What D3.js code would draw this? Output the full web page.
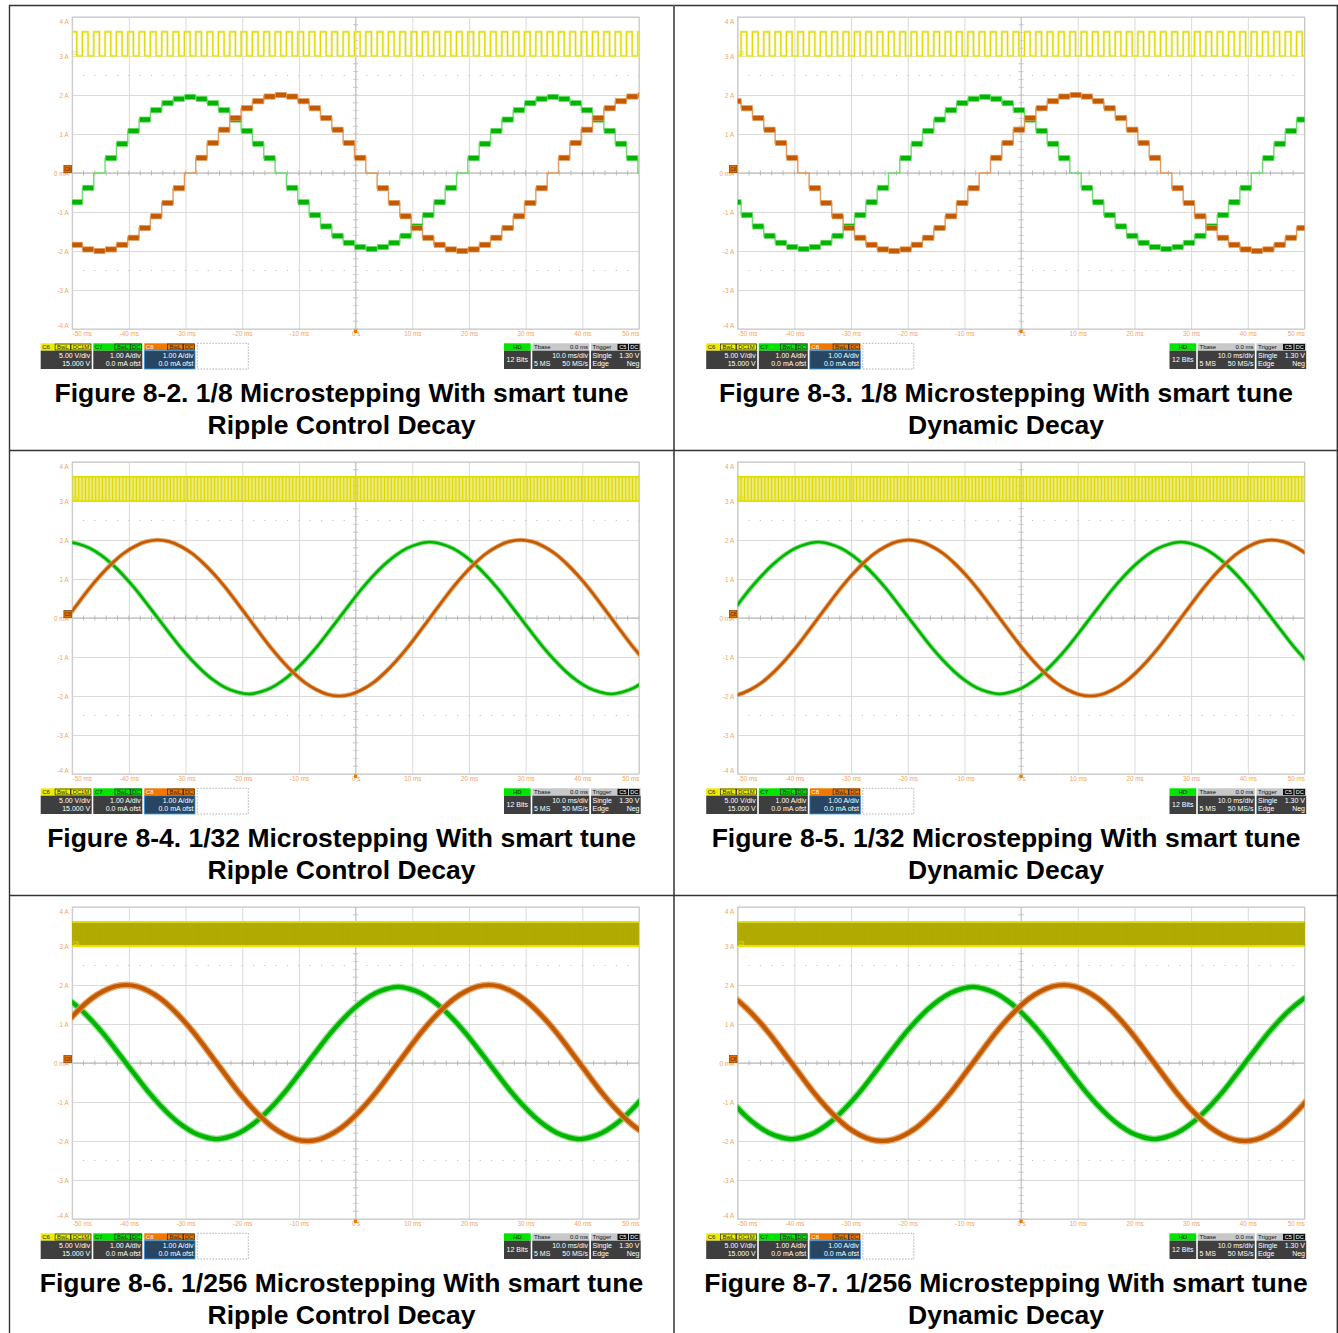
<!DOCTYPE html>
<html><head><meta charset="utf-8">
<script src="https://cdn.jsdelivr.net/npm/d3@7/dist/d3.min.js"></script>
<style>
body{margin:0;background:#fff;}
svg{display:block;font-family:"Liberation Sans",Arial,sans-serif;}
</style>
</head><body>
<svg id="c" width="1338" height="1333"></svg>
<script>
// ---------------- DATA ----------------
const timeTicksMs = [-50,-40,-30,-20,-10,0,10,20,30,40,50];
const timeTickLabels = ["-50 ms","-40 ms","-30 ms","-20 ms","-10 ms","0 s","10 ms","20 ms","30 ms","40 ms","50 ms"];
const currentTicksA = [4,3,2,1,0,-1,-2,-3,-4];
const currentTickLabels = ["4 A","3 A","2 A","1 A","0 mA","-1 A","-2 A","-3 A","-4 A"];

const figureTitles = [
  "Figure 8-2. 1/8 Microstepping With smart tune",
  "Figure 8-3. 1/8 Microstepping With smart tune",
  "Figure 8-4. 1/32 Microstepping With smart tune",
  "Figure 8-5. 1/32 Microstepping With smart tune",
  "Figure 8-6. 1/256 Microstepping With smart tune",
  "Figure 8-7. 1/256 Microstepping With smart tune"];
const figureSubtitles = ["Ripple Control Decay","Dynamic Decay","Ripple Control Decay","Dynamic Decay","Ripple Control Decay","Dynamic Decay"];
const microstepModes = ["1/8","1/8","1/32","1/32","1/256","1/256"];
// time of first sample (ms); samples are 2 ms apart
const sampleStartMs = [-50.2,-51.4,-50.9,-51.8,-52.5,-52.5];
const sampleSpacingMs = 2;
// step-input clock (C6) period per figure, ms
const stepClockPeriodMs = [2,2,0.5,0.5,0.0625,0.0625];
const clockLevelsDiv = [3.0, 3.62];

// C7 (green) and C8 (orange) coil currents in A, read every 2 ms
const c7Fig82 = [-0.75,-0.38,0,0.38,0.75,1.08,1.37,1.61,1.79,1.90,1.95,1.90,1.79,1.61,1.37,1.08,0.75,0.38,0,-0.38,-0.75,-1.08,-1.37,-1.61,-1.79,-1.90,-1.95,-1.90,-1.79,-1.61,-1.37,-1.08,-0.75,-0.38,0,0.38,0.75,1.08,1.37,1.61,1.79,1.90,1.95,1.90,1.79,1.61,1.37,1.08,0.75,0.38,0];
const c8Fig82 = [-1.84,-1.96,-2.0,-1.96,-1.84,-1.66,-1.41,-1.11,-0.77,-0.39,0,0.39,0.77,1.11,1.41,1.66,1.84,1.96,2.0,1.96,1.84,1.66,1.41,1.11,0.77,0.39,0,-0.39,-0.77,-1.11,-1.41,-1.66,-1.84,-1.96,-2.0,-1.96,-1.84,-1.66,-1.41,-1.11,-0.77,-0.39,0,0.39,0.77,1.11,1.41,1.66,1.84,1.96,2.0];
const c7Fig83 = [-0.75,-1.08,-1.37,-1.61,-1.79,-1.90,-1.95,-1.90,-1.79,-1.61,-1.37,-1.08,-0.75,-0.38,0,0.38,0.75,1.08,1.37,1.61,1.79,1.90,1.95,1.90,1.79,1.61,1.37,1.08,0.75,0.38,0,-0.38,-0.75,-1.08,-1.37,-1.61,-1.79,-1.90,-1.95,-1.90,-1.79,-1.61,-1.37,-1.08,-0.75,-0.38,0,0.38,0.75,1.08,1.37];
const c8Fig83 = [1.84,1.66,1.41,1.11,0.77,0.39,0,-0.39,-0.77,-1.11,-1.41,-1.66,-1.84,-1.96,-2.0,-1.96,-1.84,-1.66,-1.41,-1.11,-0.77,-0.39,0,0.39,0.77,1.11,1.41,1.66,1.84,1.96,2.0,1.96,1.84,1.66,1.41,1.11,0.77,0.39,0,-0.39,-0.77,-1.11,-1.41,-1.66,-1.84,-1.96,-2.0,-1.96,-1.84,-1.66,-1.41];
const c7Fig84 = [1.95,1.90,1.79,1.61,1.37,1.08,0.75,0.38,0,-0.38,-0.75,-1.08,-1.37,-1.61,-1.79,-1.90,-1.95,-1.90,-1.79,-1.61,-1.37,-1.08,-0.75,-0.38,0,0.38,0.75,1.08,1.37,1.61,1.79,1.90,1.95,1.90,1.79,1.61,1.37,1.08,0.75,0.38,0,-0.38,-0.75,-1.08,-1.37,-1.61,-1.79,-1.90,-1.95,-1.90,-1.79,-1.61];
const c8Fig84 = [0,0.39,0.77,1.11,1.41,1.66,1.84,1.96,2.0,1.96,1.84,1.66,1.41,1.11,0.77,0.39,0,-0.39,-0.77,-1.11,-1.41,-1.66,-1.84,-1.96,-2.0,-1.96,-1.84,-1.66,-1.41,-1.11,-0.77,-0.39,0,0.39,0.77,1.11,1.41,1.66,1.84,1.96,2.0,1.96,1.84,1.66,1.41,1.11,0.77,0.39,0,-0.39,-0.77,-1.11];
const c7Fig85 = [0,0.38,0.75,1.08,1.37,1.61,1.79,1.90,1.95,1.90,1.79,1.61,1.37,1.08,0.75,0.38,0,-0.38,-0.75,-1.08,-1.37,-1.61,-1.79,-1.90,-1.95,-1.90,-1.79,-1.61,-1.37,-1.08,-0.75,-0.38,0,0.38,0.75,1.08,1.37,1.61,1.79,1.90,1.95,1.90,1.79,1.61,1.37,1.08,0.75,0.38,0,-0.38,-0.75,-1.08];
const c8Fig85 = [-2.0,-1.96,-1.84,-1.66,-1.41,-1.11,-0.77,-0.39,0,0.39,0.77,1.11,1.41,1.66,1.84,1.96,2.0,1.96,1.84,1.66,1.41,1.11,0.77,0.39,0,-0.39,-0.77,-1.11,-1.41,-1.66,-1.84,-1.96,-2.0,-1.96,-1.84,-1.66,-1.41,-1.11,-0.77,-0.39,0,0.39,0.77,1.11,1.41,1.66,1.84,1.96,2.0,1.96,1.84,1.66];
const c7Fig86 = [1.79,1.61,1.37,1.08,0.75,0.38,0,-0.38,-0.75,-1.08,-1.37,-1.61,-1.79,-1.90,-1.95,-1.90,-1.79,-1.61,-1.37,-1.08,-0.75,-0.38,0,0.38,0.75,1.08,1.37,1.61,1.79,1.90,1.95,1.90,1.79,1.61,1.37,1.08,0.75,0.38,0,-0.38,-0.75,-1.08,-1.37,-1.61,-1.79,-1.90,-1.95,-1.90,-1.79,-1.61,-1.37,-1.08,-0.75];
const c8Fig86 = [0.77,1.11,1.41,1.66,1.84,1.96,2.0,1.96,1.84,1.66,1.41,1.11,0.77,0.39,0,-0.39,-0.77,-1.11,-1.41,-1.66,-1.84,-1.96,-2.0,-1.96,-1.84,-1.66,-1.41,-1.11,-0.77,-0.39,0,0.39,0.77,1.11,1.41,1.66,1.84,1.96,2.0,1.96,1.84,1.66,1.41,1.11,0.77,0.39,0,-0.39,-0.77,-1.11,-1.41,-1.66,-1.84];
const c7Fig87 = [-0.75,-1.08,-1.37,-1.61,-1.79,-1.90,-1.95,-1.90,-1.79,-1.61,-1.37,-1.08,-0.75,-0.38,0,0.38,0.75,1.08,1.37,1.61,1.79,1.90,1.95,1.90,1.79,1.61,1.37,1.08,0.75,0.38,0,-0.38,-0.75,-1.08,-1.37,-1.61,-1.79,-1.90,-1.95,-1.90,-1.79,-1.61,-1.37,-1.08,-0.75,-0.38,0,0.38,0.75,1.08,1.37,1.61,1.79];
const c8Fig87 = [1.84,1.66,1.41,1.11,0.77,0.39,0,-0.39,-0.77,-1.11,-1.41,-1.66,-1.84,-1.96,-2.0,-1.96,-1.84,-1.66,-1.41,-1.11,-0.77,-0.39,0,0.39,0.77,1.11,1.41,1.66,1.84,1.96,2.0,1.96,1.84,1.66,1.41,1.11,0.77,0.39,0,-0.39,-0.77,-1.11,-1.41,-1.66,-1.84,-1.96,-2.0,-1.96,-1.84,-1.66,-1.41,-1.11,-0.77];

const c7Series = [c7Fig82,c7Fig83,c7Fig84,c7Fig85,c7Fig86,c7Fig87];
const c8Series = [c8Fig82,c8Fig83,c8Fig84,c8Fig85,c8Fig86,c8Fig87];

// info-bar texts
const chanNames = ["C6","C7","C8"];
const chanScale = ["5.00 V/div","1.00 A/div","1.00 A/div"];
const chanOffset = ["15.000 V","0.0 mA ofst","0.0 mA ofst"];
const chanTags = [["BwL","DC1M"],["BwL","DC"],["BwL","DC"]];

// ---------------- DRAW ----------------
const svg = d3.select("#c");
svg.append("rect").attr("width",1338).attr("height",1333).attr("fill","#fff");
const defs = svg.append("defs");

const AX = "#f4a460";
const GREEN = "#00b400", GREEN_L = "#6edc6e";
const ORANGE = "#c45a00", ORANGE_L = "#e39a5a";

function txt(g,x,y,s,o){
  o=o||{};
  return g.append("text").attr("x",x).attr("y",y).text(s)
    .attr("font-size",o.size||7).attr("fill",o.fill||"#fff")
    .attr("text-anchor",o.anchor||"start").attr("font-weight",o.weight||"normal");
}

function infoBar(ox,oy){
  const g = svg.append("g").attr("transform",`translate(${ox},${oy})`);
  const hy=343.3, hh=7.4, by=350.7, bh=18.3;
  const xs=[40.7,93.3,144.3], ws=[51,49,50.7];
  const hdr=["#eded00","#00e400","#f07800"];
  const nameFill=["#222","#111","#fff"];
  const bodyFill=["#3e3e3e","#3e3e3e","#284662"];
  for(let i=0;i<3;i++){
    const x=xs[i], w=ws[i];
    g.append("rect").attr("x",x).attr("y",hy).attr("width",w).attr("height",hh).attr("fill",hdr[i]);
    txt(g,x+1.5,hy+6,chanNames[i],{fill:nameFill[i],size:6});
    let tx=x+w-0.8;
    chanTags[i].slice().reverse().forEach(t=>{
      const tw=t.length*4.6+1.5; tx-=tw;
      g.append("rect").attr("x",tx).attr("y",hy+0.7).attr("width",tw).attr("height",hh-1.4)
        .attr("fill","none").attr("stroke","#262626").attr("stroke-width",0.7);
      txt(g,tx+tw/2,hy+5.9,t,{anchor:"middle",fill:"#262626",size:5.8});
      tx-=0.6;
    });
    g.append("rect").attr("x",x).attr("y",by).attr("width",w).attr("height",bh).attr("fill",bodyFill[i])
      .attr("stroke",i===2?"#3d9be9":"none").attr("stroke-width",0.8);
    txt(g,x+w-1.5,by+7.3,chanScale[i],{anchor:"end"});
    txt(g,x+w-1.5,by+15,chanOffset[i],{anchor:"end"});
  }
  g.append("rect").attr("x",197.3).attr("y",hy).attr("width",51).attr("height",hh+bh)
    .attr("fill","none").attr("stroke","#9a9a9a").attr("stroke-width",0.8).attr("stroke-dasharray","1.5,1.5");
  // HD
  g.append("rect").attr("x",504).attr("y",hy).attr("width",26.7).attr("height",hh).attr("fill","#00e400");
  txt(g,517.3,hy+6,"HD",{anchor:"middle",fill:"#111",size:6});
  g.append("rect").attr("x",504).attr("y",by).attr("width",26.7).attr("height",bh).attr("fill","#3e3e3e");
  txt(g,517.3,by+11.3,"12 Bits",{anchor:"middle"});
  // Tbase
  g.append("rect").attr("x",532.3).attr("y",hy).attr("width",57).attr("height",hh).attr("fill","#c8c8c8");
  txt(g,534,hy+6,"Tbase",{fill:"#111",size:6});
  txt(g,588,hy+6,"0.0 ms",{fill:"#111",size:6,anchor:"end"});
  g.append("rect").attr("x",532.3).attr("y",by).attr("width",57).attr("height",bh).attr("fill","#3e3e3e");
  txt(g,588,by+7.3,"10.0 ms/div",{anchor:"end"});
  txt(g,534,by+15,"5 MS");
  txt(g,588,by+15,"50 MS/s",{anchor:"end"});
  // Trigger
  g.append("rect").attr("x",591).attr("y",hy).attr("width",49.7).attr("height",hh).attr("fill","#c8c8c8");
  txt(g,592.5,hy+6,"Trigger",{fill:"#111",size:6});
  [["C5",617.5],["DC",629]].forEach(([s,bx])=>{
    g.append("rect").attr("x",bx).attr("y",hy+0.6).attr("width",10.5).attr("height",hh-1.2).attr("fill","#111");
    txt(g,bx+5.25,hy+5.8,s,{anchor:"middle",size:5.6});
  });
  g.append("rect").attr("x",591).attr("y",by).attr("width",49.7).attr("height",bh).attr("fill","#3e3e3e");
  txt(g,592.5,by+7.3,"Single");
  txt(g,639.5,by+7.3,"1.30 V",{anchor:"end"});
  txt(g,592.5,by+15,"Edge");
  txt(g,639.5,by+15,"Neg",{anchor:"end"});
}

for(let i=0;i<6;i++){
  const col=i%2,row=Math.floor(i/2);
  const ox=col*665.5, oy=row*445;
  const left=72.2+ox,right=639+ox,top=17+oy,bottom=329+oy;
  const x=d3.scaleLinear().domain([-50,50]).range([left,right]);
  const y=d3.scaleLinear().domain([-4,4]).range([bottom,top]);
  const g=svg.append("g");
  const mode=microstepModes[i];
  const t0=sampleStartMs[i];

  // grid
  const gx=g.append("g").attr("transform",`translate(0,${bottom})`)
    .call(d3.axisBottom(x).tickValues(timeTicksMs).tickSize(-(bottom-top)).tickFormat(""));
  gx.select(".domain").remove();
  gx.selectAll("line").attr("stroke","#dadada").attr("stroke-width",1);
  const gy=g.append("g").attr("transform",`translate(${left},0)`)
    .call(d3.axisLeft(y).tickValues(currentTicksA).tickSize(-(right-left)).tickFormat(""));
  gy.select(".domain").remove();
  gy.selectAll("line").attr("stroke","#dadada").attr("stroke-width",1);
  // dotted rows at +/-2.5 div
  [2.5,-2.5].forEach(v=>{
    g.append("line").attr("x1",left).attr("x2",right).attr("y1",y(v)).attr("y2",y(v))
      .attr("stroke","#c4c4c4").attr("stroke-width",1.2)
      .attr("stroke-dasharray",`1.2,${(right-left)/50-1.2}`).attr("stroke-dashoffset",-((right-left)/50-0.6));
  });
  // centre lines with ticks
  g.append("line").attr("x1",left).attr("x2",right).attr("y1",y(0)).attr("y2",y(0)).attr("stroke","#b4b4b4");
  g.append("line").attr("x1",x(0)).attr("x2",x(0)).attr("y1",top).attr("y2",bottom).attr("stroke","#c4c4c4");
  g.append("line").attr("x1",left).attr("x2",right).attr("y1",y(0)).attr("y2",y(0))
    .attr("stroke","#b4b4b4").attr("stroke-width",5)
    .attr("stroke-dasharray",`0.9,${(right-left)/50-0.9}`).attr("stroke-dashoffset",0.45);
  g.append("line").attr("x1",x(0)).attr("x2",x(0)).attr("y1",top).attr("y2",bottom)
    .attr("stroke","#c4c4c4").attr("stroke-width",5)
    .attr("stroke-dasharray",`0.9,${(bottom-top)/40-0.9}`).attr("stroke-dashoffset",0.45);
  // frame
  g.append("rect").attr("x",left).attr("y",top).attr("width",right-left).attr("height",bottom-top)
    .attr("fill","none").attr("stroke","#c6c6c6").attr("stroke-width",1);

  // axes labels
  const xa=g.append("g").attr("transform",`translate(0,${bottom})`)
    .call(d3.axisBottom(x).tickValues(timeTicksMs).tickSize(0).tickPadding(2.5)
      .tickFormat((d,k)=>timeTickLabels[k]));
  xa.select(".domain").remove();
  xa.selectAll("text").attr("fill",AX).attr("font-size",6.3).attr("font-family","Liberation Sans, Arial, sans-serif");
  xa.selectAll("text").filter((d,k)=>k===0).attr("text-anchor","start");
  xa.selectAll("text").filter((d,k)=>k===timeTicksMs.length-1).attr("text-anchor","end");
  const ya=g.append("g").attr("transform",`translate(${left},0)`)
    .call(d3.axisLeft(y).tickValues(currentTicksA).tickSize(0).tickPadding(3.5)
      .tickFormat((d,k)=>currentTickLabels[k]));
  ya.select(".domain").remove();
  ya.selectAll("text").attr("fill",AX).attr("font-size",6.3).attr("font-family","Liberation Sans, Arial, sans-serif");
  ya.selectAll("text").filter(d=>d===4).attr("dy","1.05em");
  ya.selectAll("text").filter(d=>d===-4).attr("dy","-0.2em");
  // trigger marker at 0 s
  g.append("rect").attr("x",x(0)-1.6).attr("y",bottom+0.5).attr("width",3.2).attr("height",3.5).attr("fill","#f07800");

  // clip
  defs.append("clipPath").attr("id","clip"+i).append("rect")
    .attr("x",left).attr("y",top).attr("width",right-left).attr("height",bottom-top);
  const tg=g.append("g").attr("clip-path",`url(#clip${i})`);

  // C6 step clock (square wave)
  const per=stepClockPeriodMs[i];
  const clk=[];
  const nPulses=Math.ceil((52-t0)/per);
  for(let n=0;n<=nPulses;n++){
    const ts=t0+n*per;
    clk.push([ts,clockLevelsDiv[1]],[ts+per/2,clockLevelsDiv[0]]);
  }
  const clkLine=d3.line().x(d=>x(d[0])).y(d=>y(d[1])).curve(d3.curveStepAfter);
  if(mode==="1/8"){
    tg.append("path").attr("d",clkLine(clk)).attr("fill","none").attr("stroke","#f2f2a0").attr("stroke-width",2.6);
    tg.append("path").attr("d",clkLine(clk)).attr("fill","none").attr("stroke","#e0dc00").attr("stroke-width",1.2);
  } else if(mode==="1/32"){
    tg.append("path").attr("d",clkLine(clk)).attr("fill","none").attr("stroke","#dcd800").attr("stroke-width",1);
    [clockLevelsDiv[0],clockLevelsDiv[1]].forEach(v=>{
      tg.append("line").attr("x1",left).attr("x2",right).attr("y1",y(v)).attr("y2",y(v))
        .attr("stroke","#e0dc00").attr("stroke-width",1.4);
    });
  } else {
    tg.append("path").attr("d",clkLine(clk)).attr("fill","none").attr("stroke","#b2ac00").attr("stroke-width",0.8);
    [clockLevelsDiv[0],clockLevelsDiv[1]].forEach(v=>{
      tg.append("line").attr("x1",left).attr("x2",right).attr("y1",y(v)).attr("y2",y(v))
        .attr("stroke","#e8e400").attr("stroke-width",1.8);
    });
  }

  // coil currents
  const chans=[{v:c7Series[i],core:GREEN,light:GREEN_L},{v:c8Series[i],core:ORANGE,light:ORANGE_L}];
  chans.forEach(ch=>{
    const pts=ch.v.map((v,k)=>({t:t0+sampleSpacingMs*k,v}));
    if(mode==="1/8"){
      const sp=pts.concat([{t:t0+sampleSpacingMs*ch.v.length,v:ch.v[ch.v.length-1]}]);
      const sl=d3.line().x(d=>x(d.t)).y(d=>y(d.v)).curve(d3.curveStepAfter);
      tg.append("path").attr("d",sl(sp)).attr("fill","none").attr("stroke",ch.light).attr("stroke-width",1.4);
      tg.selectAll(null).data(pts.filter(d=>Math.abs(d.v)>0.05)).join("rect")
        .attr("x",d=>x(d.t)+0.3).attr("width",d=>x(d.t+sampleSpacingMs)-x(d.t)-0.3)
        .attr("y",d=>y(d.v)-2.6).attr("height",5.2)
        .attr("fill",ch.core).attr("stroke",ch.light).attr("stroke-width",0.7);
    } else {
      const cl=d3.line().x(d=>x(d.t)).y(d=>y(d.v)).curve(d3.curveCatmullRom);
      const wide = mode==="1/32" ? [4.6,2.6] : [6.8,4.2];
      tg.append("path").attr("d",cl(pts)).attr("fill","none").attr("stroke",ch.light).attr("stroke-width",wide[0]).attr("opacity",0.85);
      tg.append("path").attr("d",cl(pts)).attr("fill","none").attr("stroke",ch.core).attr("stroke-width",wide[1]);
    }
  });

  // channel markers
  g.append("text").attr("x",left+0.8).attr("y",y(3)-0.8).text("C6").attr("font-size",4.6)
    .attr("fill","#e8e400").attr("text-anchor","start");
  g.append("rect").attr("x",left-8.3).attr("y",y(0)-7.4).attr("width",7.6).attr("height",7.2)
    .attr("fill","#e07000").attr("stroke","#7a3a00").attr("stroke-width",0.7);
  g.append("text").attr("x",left-4.5).attr("y",y(0)-2).text("C8").attr("font-size",4.6)
    .attr("fill","#5a2a00").attr("text-anchor","middle");

  infoBar(ox,oy);

  // captions
  const cx = col===0 ? 341.5 : 1006;
  svg.append("text").attr("x",cx).attr("y",402+oy).text(figureTitles[i])
    .attr("text-anchor","middle").attr("font-size",26.5).attr("font-weight","bold").attr("fill","#000");
  svg.append("text").attr("x",cx).attr("y",434+oy).text(figureSubtitles[i])
    .attr("text-anchor","middle").attr("font-size",26.5).attr("font-weight","bold").attr("fill","#000");
}

// table borders
const bd=svg.append("g").attr("stroke","#333").attr("stroke-width",1.4);
bd.append("line").attr("x1",9).attr("x2",1338).attr("y1",5.5).attr("y2",5.5);
bd.append("line").attr("x1",9.5).attr("x2",9.5).attr("y1",5).attr("y2",1333);
bd.append("line").attr("x1",674).attr("x2",674).attr("y1",5).attr("y2",1333).attr("stroke","#555").attr("stroke-width",1.8);
bd.append("line").attr("x1",1337.3).attr("x2",1337.3).attr("y1",5).attr("y2",1333);
bd.append("line").attr("x1",9).attr("x2",1338).attr("y1",450.5).attr("y2",450.5);
bd.append("line").attr("x1",9).attr("x2",1338).attr("y1",895.5).attr("y2",895.5);
</script>
</body></html>
